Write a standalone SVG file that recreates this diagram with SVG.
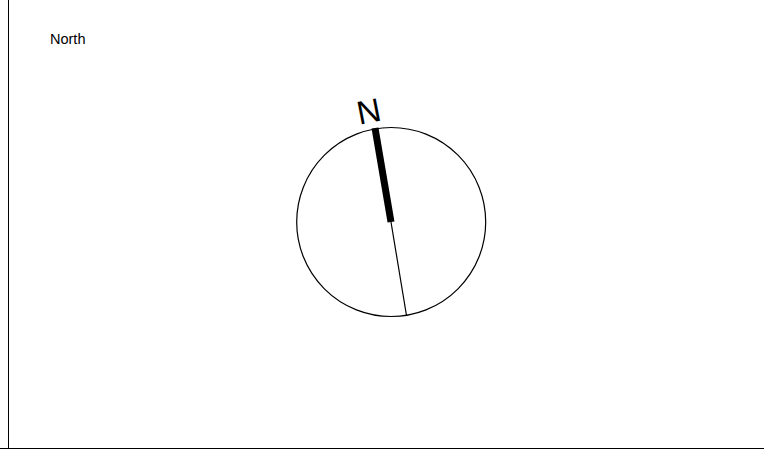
<svg xmlns="http://www.w3.org/2000/svg" width="764" height="450" viewBox="0 0 764 450">
<style>
.lbl{font-family:"Liberation Sans",Arial,sans-serif;fill:#000}
.frame{stroke:#000;stroke-width:1;fill:none}
</style>
<rect width="764" height="450" fill="#fff"/>
<g id="frame">
<line class="frame" x1="8.5" y1="0" x2="8.5" y2="449"/>
<line class="frame" x1="0" y1="448.5" x2="764" y2="448.5" stroke-width="1.5"/>
</g>
<g id="title"><text class="lbl" x="50" y="44" font-size="14.5">North</text></g>
<g id="compass">
<circle cx="391.2" cy="222" r="94.5" fill="none" stroke="#000" stroke-width="1.2"/>
<line x1="375" y1="128" x2="391" y2="222" stroke="#000" stroke-width="7"/>
<line x1="391" y1="222" x2="406.5" y2="315.5" stroke="#000" stroke-width="1.2"/>
<text class="lbl" font-size="33" text-anchor="middle" transform="translate(371,122.5) rotate(-11)">N</text>
</g>
</svg>
